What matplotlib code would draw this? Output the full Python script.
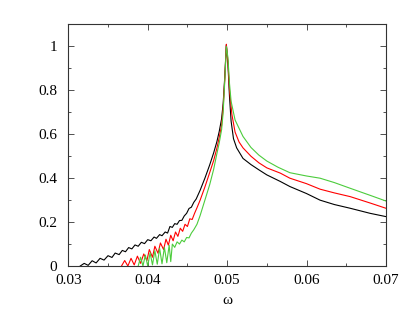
import matplotlib
matplotlib.use("Agg")
import matplotlib.pyplot as plt
from matplotlib import font_manager
from matplotlib.ticker import MultipleLocator

# pick a Times-like face that is actually present
have = {f.name for f in font_manager.fontManager.ttflist}
serif_faces = [n for n in ['Liberation Serif', 'Times New Roman', 'Tinos',
                           'Nimbus Roman', 'STIXGeneral', 'DejaVu Serif'] if n in have]
plt.rcParams['font.family'] = serif_faces

# black curve (omega, value)
w_black = [0.0315, 0.0320, 0.0325, 0.0330, 0.0335, 0.0340, 0.0345, 0.0350, 0.0355,
           0.0359, 0.0364, 0.0368, 0.0372, 0.0376, 0.0380, 0.0384, 0.0388, 0.0392,
           0.0396, 0.0400, 0.0404, 0.0408, 0.0411, 0.0415, 0.0418, 0.0422, 0.0425,
           0.0428, 0.0431, 0.0434, 0.0437, 0.0440, 0.0443, 0.0446, 0.0449, 0.0452,
           0.0455, 0.0458, 0.0461, 0.0466, 0.0472, 0.0478, 0.0483, 0.0487, 0.0490,
           0.0493, 0.0495, 0.0497, 0.0499, 0.0501, 0.0503, 0.0505, 0.0508, 0.0512,
           0.0520, 0.0530, 0.0540, 0.0550, 0.0567, 0.0579, 0.0600, 0.0617, 0.0635,
           0.0655, 0.0680, 0.0700]
v_black = [0.000, 0.012, 0.003, 0.024, 0.014, 0.035, 0.027, 0.047, 0.039,
           0.059, 0.052, 0.071, 0.065, 0.084, 0.078, 0.096, 0.090, 0.108,
           0.102, 0.120, 0.115, 0.132, 0.126, 0.143, 0.138, 0.155, 0.150,
           0.180, 0.176, 0.193, 0.190, 0.207, 0.208, 0.228, 0.240, 0.262,
           0.268, 0.290, 0.305, 0.345, 0.400, 0.460, 0.515, 0.565, 0.612,
           0.670, 0.740, 0.860, 1.008, 0.920, 0.770, 0.660, 0.580, 0.538,
           0.490, 0.462, 0.438, 0.415, 0.385, 0.362, 0.330, 0.300, 0.280,
           0.263, 0.240, 0.225]

# red curve
w_red = [0.0367, 0.0371, 0.0375, 0.0379, 0.0383, 0.0387, 0.0391, 0.0395, 0.0399,
         0.0402, 0.0406, 0.0409, 0.0413, 0.0416, 0.0420, 0.0423, 0.0426, 0.0429,
         0.0432, 0.0435, 0.0438, 0.0441, 0.0444, 0.0447, 0.0450, 0.0453, 0.0456,
         0.0459, 0.0462, 0.0466, 0.0472, 0.0478, 0.0483, 0.0487, 0.0490, 0.0493,
         0.0495, 0.0497, 0.0499, 0.0501, 0.0503, 0.0506, 0.0510, 0.0515, 0.0520,
         0.0530, 0.0540, 0.0550, 0.0567, 0.0579, 0.0600, 0.0617, 0.0635, 0.0655,
         0.0680, 0.0700]
v_red = [0.000, 0.025, 0.000, 0.035, 0.005, 0.045, 0.012, 0.055, 0.025,
         0.075, 0.040, 0.090, 0.058, 0.105, 0.075, 0.122, 0.095, 0.140,
         0.115, 0.155, 0.135, 0.172, 0.158, 0.190, 0.180, 0.215, 0.212,
         0.240, 0.265, 0.300, 0.360, 0.425, 0.480, 0.535, 0.585, 0.640,
         0.720, 0.850, 1.010, 0.930, 0.800, 0.690, 0.610, 0.565, 0.538,
         0.500, 0.470, 0.447, 0.423, 0.400, 0.375, 0.350, 0.333, 0.316,
         0.287, 0.263]

# green curve
w_green = [0.0388, 0.0391, 0.0394, 0.0397, 0.0400, 0.0403, 0.0406, 0.0409, 0.0412,
           0.0415, 0.0418, 0.0421, 0.0424, 0.0427, 0.0429, 0.0431, 0.0434, 0.0437,
           0.0440, 0.0443, 0.0446, 0.0449, 0.0452, 0.0455, 0.0458, 0.0462, 0.0466,
           0.0472, 0.0478, 0.0483, 0.0487, 0.0490, 0.0493, 0.0495, 0.0497, 0.0499,
           0.0501, 0.0503, 0.0505, 0.0510, 0.0520, 0.0530, 0.0540, 0.0550, 0.0564,
           0.0579, 0.0600, 0.0617, 0.0635, 0.0655, 0.0680, 0.0700]
v_green = [0.000, 0.040, 0.000, 0.050, 0.000, 0.060, 0.005, 0.070, 0.008,
           0.080, 0.010, 0.085, 0.015, 0.095, 0.020, 0.100, 0.085, 0.110,
           0.100, 0.118, 0.110, 0.130, 0.128, 0.150, 0.165, 0.190, 0.230,
           0.300, 0.370, 0.440, 0.510, 0.560, 0.620, 0.700, 0.840, 1.000,
           0.950, 0.830, 0.750, 0.665, 0.590, 0.540, 0.505, 0.478, 0.450,
           0.425, 0.410, 0.400, 0.380, 0.354, 0.322, 0.296]

fig = plt.figure(figsize=(4.15, 3.21), dpi=100)
ax = fig.add_axes([0.1646, 0.1713, 0.7654, 0.7524])

ax.plot(w_black, v_black, color='black', lw=0.8)
ax.plot(w_red, v_red, color='#ff0000', lw=0.8)
ax.plot(w_green, v_green, color='#4ccc3c', lw=0.8)

ax.set_xlim(0.03, 0.07)
ax.set_ylim(0, 1.1)
ax.xaxis.set_minor_locator(MultipleLocator(0.005))
ax.yaxis.set_minor_locator(MultipleLocator(0.1))
ax.set_xticks([0.03, 0.04, 0.05, 0.06, 0.07])
ax.set_xticklabels(['0.03', '0.04', '0.05', '0.06', '0.07'])
ax.set_yticks([0, 0.2, 0.4, 0.6, 0.8, 1.0])
ax.set_yticklabels(['0', '0.2', '0.4', '0.6', '0.8', '1'])
ax.tick_params(which='both', direction='in', top=True, right=True,
               labelsize=11, color='#333333')
ax.tick_params(which='major', length=4, width=0.6)
ax.tick_params(which='minor', length=2, width=0.6)
ax.tick_params(axis='x', which='major', pad=6)
ax.tick_params(axis='y', which='major', pad=8)
for s in ax.spines.values():
    s.set_linewidth(0.8)
    s.set_color('#333333')

ax.set_xlabel('ω', fontsize=11, labelpad=5)

fig.savefig('out.png', dpi=100)
